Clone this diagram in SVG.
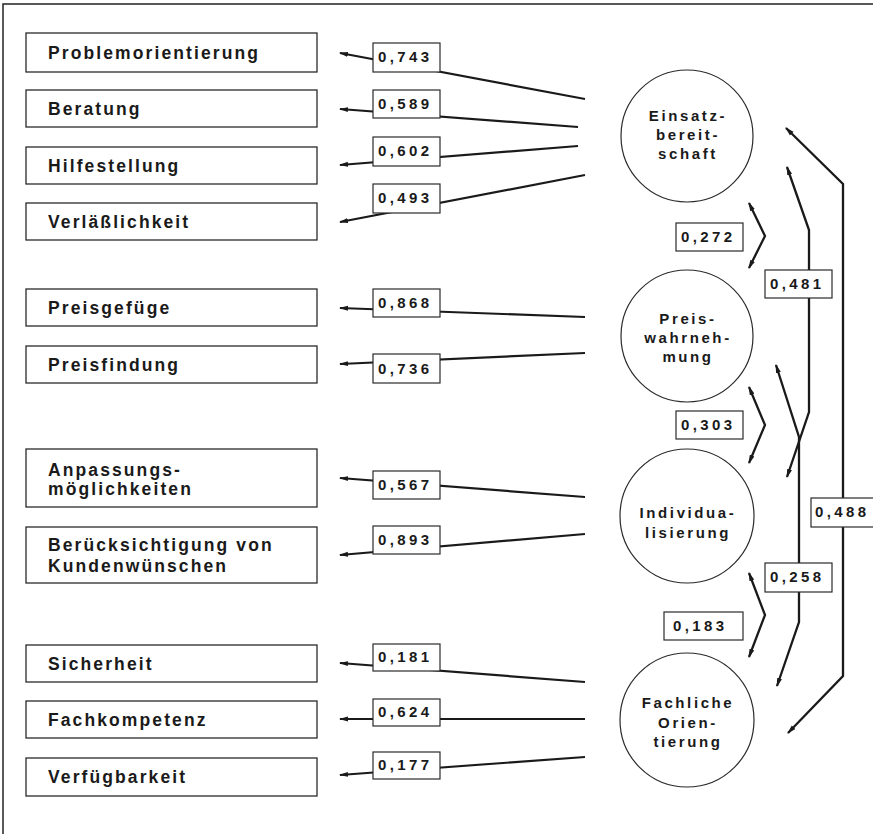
<svg xmlns="http://www.w3.org/2000/svg" width="873" height="834" viewBox="0 0 873 834">
<defs>
<style>
.frame{fill:none;stroke:#222;stroke-width:1.5}
.box{fill:#fff;stroke:#2a2a2a;stroke-width:1.3}
.val{fill:#fff;stroke:#2a2a2a;stroke-width:1.2}
.circ{fill:#fff;stroke:#2a2a2a;stroke-width:1.2}
.lbl{font-family:"Liberation Sans",Arial,sans-serif;font-weight:bold;font-size:17.5px;letter-spacing:2.1px;fill:#1a1a1a}
.num{font-family:"Liberation Sans",Arial,sans-serif;font-weight:bold;font-size:15px;letter-spacing:3.4px;fill:#1a1a1a}
.ctx{font-family:"Liberation Sans",Arial,sans-serif;font-weight:bold;font-size:15px;letter-spacing:2.6px;fill:#1a1a1a;text-anchor:middle}
.ln{fill:none;stroke:#1a1a1a;stroke-width:2.2;marker-end:url(#ah)}
.rl{fill:none;stroke:#1a1a1a;stroke-width:2.3;marker-start:url(#ah);marker-end:url(#ah)}
</style>
<marker id="ah" markerWidth="9" markerHeight="7" refX="8" refY="3.5" orient="auto-start-reverse" markerUnits="userSpaceOnUse">
<path d="M0,1 L9,3.5 L0,6 z" fill="#1a1a1a"/>
</marker>
</defs>
<rect width="873" height="834" fill="#fff"/>
<path class="frame" d="M3,834 L3,4 L873,4"/>

<g id="connectors">
<path class="ln" d="M585,99 L340,53"/>
<path class="ln" d="M578,127 L340,109"/>
<path class="ln" d="M578,146 L340,165"/>
<path class="ln" d="M585,175 L340,222"/>
<path class="ln" d="M585,317 L340,308"/>
<path class="ln" d="M585,353 L340,364"/>
<path class="ln" d="M585,497 L340,478"/>
<path class="ln" d="M585,534 L340,555"/>
<path class="ln" d="M585,682 L340,663"/>
<path class="ln" d="M585,719 L340,719"/>
<path class="ln" d="M585,757 L340,775"/>
<path class="rl" d="M749,203 L765,236 L749,268"/>
<path class="rl" d="M749,387 L765,425 L749,463"/>
<path class="rl" d="M749,573 L765,615 L749,657"/>
<path class="rl" d="M787,167 L809,230 L809,412 L787,477"/>
<path class="rl" d="M776,365 L799,437 L799,622 L777,686"/>
<path class="rl" d="M786,128 L843,184 L843,676 L788,733"/>
</g>

<g id="loadings">
<rect class="val" x="373" y="43" width="67" height="29"/><text class="num" x="378" y="62">0,743</text>
<rect class="val" x="373" y="90" width="67" height="28"/><text class="num" x="378" y="109">0,589</text>
<rect class="val" x="373" y="137" width="67" height="29"/><text class="num" x="378" y="156">0,602</text>
<rect class="val" x="373" y="184" width="67" height="29"/><text class="num" x="378" y="203">0,493</text>
<rect class="val" x="373" y="289" width="67" height="28"/><text class="num" x="378" y="308">0,868</text>
<rect class="val" x="373" y="354" width="67" height="29"/><text class="num" x="378" y="374">0,736</text>
<rect class="val" x="373" y="471" width="67" height="28"/><text class="num" x="378" y="490">0,567</text>
<rect class="val" x="373" y="526" width="67" height="28"/><text class="num" x="378" y="545">0,893</text>
<rect class="val" x="373" y="644" width="67" height="27"/><text class="num" x="378" y="662">0,181</text>
<rect class="val" x="373" y="699" width="67" height="27"/><text class="num" x="378" y="717">0,624</text>
<rect class="val" x="373" y="752" width="67" height="27"/><text class="num" x="378" y="770">0,177</text>
</g>

<g id="correlations">
<rect class="val" x="676" y="223" width="67" height="28"/><text class="num" x="681" y="242">0,272</text>
<rect class="val" x="676" y="411" width="67" height="28"/><text class="num" x="681" y="430">0,303</text>
<rect class="val" x="664" y="612" width="79" height="28"/><text class="num" x="673" y="631">0,183</text>
<rect class="val" x="765" y="270" width="67" height="28"/><text class="num" x="770" y="289">0,481</text>
<rect class="val" x="765" y="563" width="67" height="29"/><text class="num" x="770" y="582">0,258</text>
<rect class="val" x="811" y="498" width="70" height="29"/><text class="num" x="815" y="517">0,488</text>
</g>

<g id="n-problemorientierung"><rect class="box" x="26" y="33" width="291" height="39"/><text class="lbl" x="48" y="59">Problemorientierung</text></g>
<g id="n-beratung"><rect class="box" x="26" y="90" width="291" height="37"/><text class="lbl" x="48" y="115">Beratung</text></g>
<g id="n-hilfestellung"><rect class="box" x="26" y="147" width="291" height="37"/><text class="lbl" x="48" y="172">Hilfestellung</text></g>
<g id="n-verlaesslichkeit"><rect class="box" x="26" y="203" width="291" height="37"/><text class="lbl" x="48" y="228">Verläßlichkeit</text></g>
<g id="n-preisgefuege"><rect class="box" x="26" y="289" width="291" height="37"/><text class="lbl" x="48" y="314">Preisgefüge</text></g>
<g id="n-preisfindung"><rect class="box" x="26" y="346" width="291" height="37"/><text class="lbl" x="48" y="371">Preisfindung</text></g>
<g id="n-anpassung"><rect class="box" x="26" y="449" width="291" height="58"/><text class="lbl" x="48" y="476">Anpassungs-</text><text class="lbl" x="48" y="495">möglichkeiten</text></g>
<g id="n-beruecksichtigung"><rect class="box" x="26" y="527" width="291" height="56"/><text class="lbl" x="48" y="551">Berücksichtigung von</text><text class="lbl" x="48" y="572">Kundenwünschen</text></g>
<g id="n-sicherheit"><rect class="box" x="26" y="645" width="291" height="37"/><text class="lbl" x="48" y="670">Sicherheit</text></g>
<g id="n-fachkompetenz"><rect class="box" x="26" y="701" width="291" height="37"/><text class="lbl" x="48" y="726">Fachkompetenz</text></g>
<g id="n-verfuegbarkeit"><rect class="box" x="26" y="758" width="291" height="38"/><text class="lbl" x="48" y="783">Verfügbarkeit</text></g>

<g id="f-einsatz"><circle class="circ" cx="687" cy="136" r="66"/><text class="ctx" x="688" y="121">Einsatz-</text><text class="ctx" x="688" y="140">bereit-</text><text class="ctx" x="688" y="159">schaft</text></g>
<g id="f-preis"><circle class="circ" cx="687" cy="336" r="66"/><text class="ctx" x="688" y="324">Preis-</text><text class="ctx" x="688" y="343">wahrneh-</text><text class="ctx" x="688" y="362">mung</text></g>
<g id="f-individualisierung"><circle class="circ" cx="687" cy="516" r="67"/><text class="ctx" x="688" y="518">Individua-</text><text class="ctx" x="688" y="538">lisierung</text></g>
<g id="f-fachlich"><circle class="circ" cx="687" cy="720" r="67"/><text class="ctx" x="688" y="708">Fachliche</text><text class="ctx" x="688" y="728">Orien-</text><text class="ctx" x="688" y="747">tierung</text></g>
</svg>
